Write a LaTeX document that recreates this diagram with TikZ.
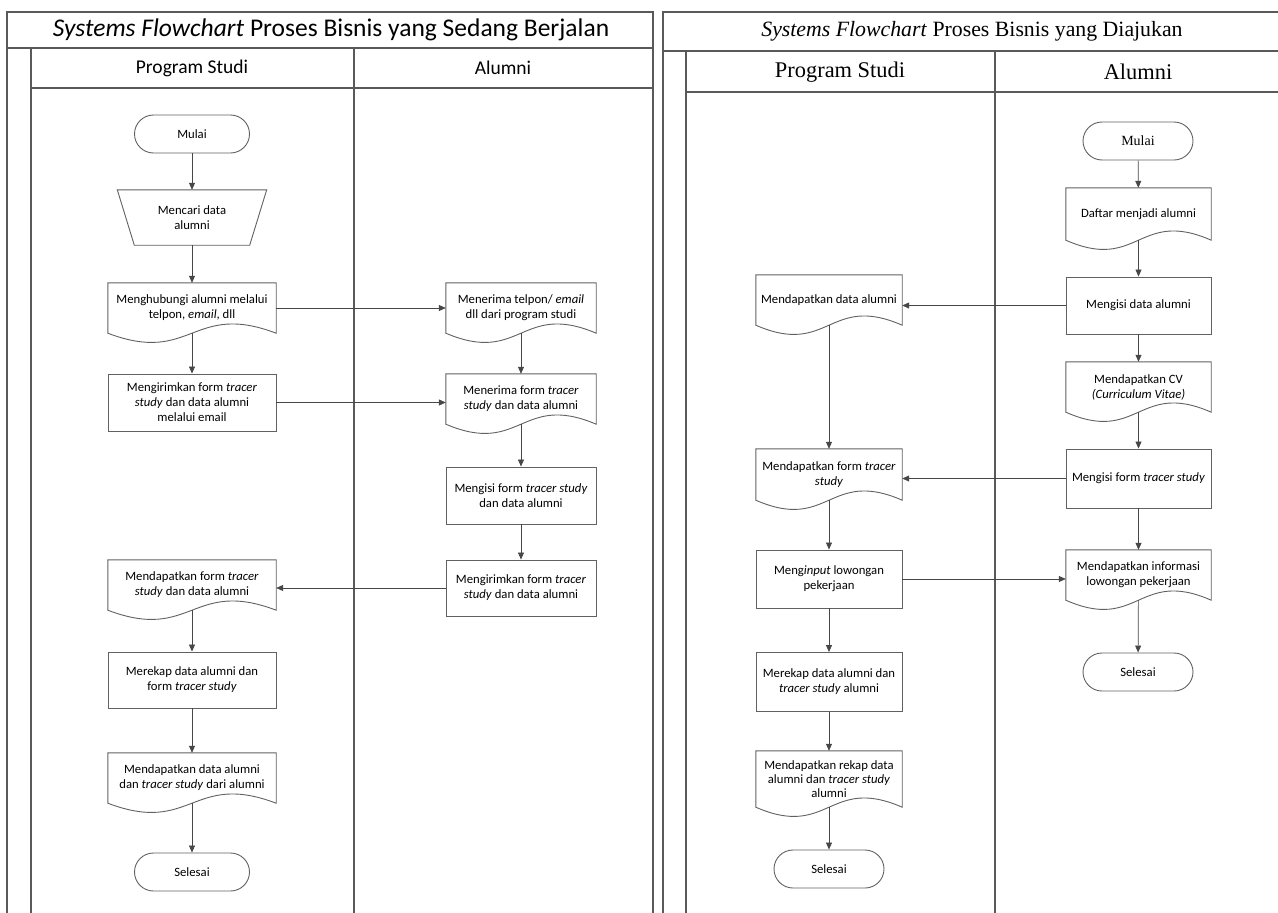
\documentclass[tikz,border=0pt]{standalone}
\usepackage{fontspec}
\setmainfont{Carlito}
\newfontfamily\timesfont{Liberation Serif}
\usetikzlibrary{arrows.meta,calc}

\definecolor{framegray}{gray}{0.35}
\definecolor{shapegray}{gray}{0.38}
\definecolor{arrowgray}{gray}{0.28}

\tikzset{
  lane/.style={draw=framegray, line width=1.3pt},
  boxfont/.style={font=\fontsize{12.7}{15}\selectfont},
  terminal/.style={boxfont, draw=shapegray, line width=0.9pt, rounded corners=19pt,
    minimum width=115pt, minimum height=38pt},
  process/.style={boxfont, draw=shapegray, line width=0.9pt, align=center, inner sep=2pt},
  docnode/.style={boxfont, align=center, inner sep=2pt},
  flow/.style={draw=arrowgray, line width=0.7pt, -{Triangle[length=7pt,width=6pt]}}
}

% outline of a document symbol around a node
\newcommand{\docframe}[1]{%
  \draw[draw=shapegray, line width=0.9pt]
    (#1.south east) .. controls ($(#1.south)+(0,-32)$) and ($(#1.south)+(0,32)$) ..
    (#1.south west) -- (#1.north west) -- (#1.north east) -- cycle;}

\begin{document}
\begin{tikzpicture}[x=1pt, y=-1pt]
  \useasboundingbox (0,0) rectangle (1278,913);

  % left swimlane frame
  \draw[lane] (7,913) -- (7,12) -- (653,12) -- (653,913);
  \draw[lane] (7,48) -- (653,48);
  \draw[lane] (31,48) -- (31,913);
  \draw[lane] (31,88) -- (653,88);
  \draw[lane] (354,48) -- (354,913);
  \node[font=\fontsize{25.5}{28}\selectfont] (judul1) at (331,30) {\textit{Systems Flowchart} Proses Bisnis yang Sedang Berjalan};
  \node[font=\fontsize{19.5}{22}\selectfont] (prodi1) at (192,68) {Program Studi};
  \node[font=\fontsize{19.5}{22}\selectfont] (alumni1) at (503,68) {Alumni};

  % right swimlane frame
  \draw[lane] (663,913) -- (663,12) -- (1281,12) -- (1281,913);
  \draw[lane] (663,51) -- (1281,51);
  \draw[lane] (686,51) -- (686,913);
  \draw[lane] (686,92) -- (1281,92);
  \draw[lane] (995,51) -- (995,913);
  \node[font=\timesfont\fontsize{21.8}{24}\selectfont] (judul2) at (972,31) {\textit{Systems Flowchart} Proses Bisnis yang Diajukan};
  \node[font=\timesfont\fontsize{22.4}{25}\selectfont] (prodi2) at (840,72) {Program Studi};
  \node[font=\timesfont\fontsize{22.4}{25}\selectfont] (alumni2) at (1138,72) {Alumni};

  % left: program studi
  \node[terminal] (mulai1) at (192,134) {Mulai};
  \node[boxfont, align=center, minimum width=115pt, minimum height=55pt] (cari1) at (192,217.5) {Mencari data\\alumni};
  \draw[draw=shapegray, line width=0.9pt] ([xshift=-17pt]cari1.north west) -- ([xshift=17pt]cari1.north east)
    -- (cari1.south east) -- (cari1.south west) -- cycle;
  \node[docnode, minimum width=168pt, minimum height=50pt] (hubungi1) at (192,308) {Menghubungi alumni melalui\\telpon, \textit{email}, dll};
  \docframe{hubungi1}
  \node[process, minimum width=168pt, minimum height=57pt] (kirim1) at (192,402.5) {Mengirimkan form \textit{tracer}\\\textit{study} dan data alumni\\melalui email};
  \node[docnode, minimum width=168pt, minimum height=50pt] (dapatform1) at (192,585) {Mendapatkan form \textit{tracer}\\\textit{study} dan data alumni};
  \docframe{dapatform1}
  \node[process, minimum width=168pt, minimum height=56pt] (rekap1) at (192,680) {Merekap data alumni dan\\form \textit{tracer study}};
  \node[docnode, minimum width=168pt, minimum height=50pt] (dapatdata1) at (192,778) {Mendapatkan data alumni\\dan \textit{tracer study} dari alumni};
  \docframe{dapatdata1}
  \node[terminal] (selesai1) at (192,872) {Selesai};

  % left: alumni
  \node[docnode, minimum width=150pt, minimum height=50pt] (telpon1) at (521,308) {Menerima telpon/ \textit{email}\\dll dari program studi};
  \docframe{telpon1}
  \node[docnode, minimum width=150pt, minimum height=50pt] (terima1) at (521,399) {Menerima form \textit{tracer}\\\textit{study} dan data alumni};
  \docframe{terima1}
  \node[process, minimum width=150pt, minimum height=57pt] (isi1) at (521,495.5) {Mengisi form \textit{tracer study}\\dan data alumni};
  \node[process, minimum width=150pt, minimum height=56pt] (kirimalumni1) at (521,588) {Mengirimkan form \textit{tracer}\\\textit{study} dan data alumni};

  \draw[flow] (mulai1) -- (cari1);
  \draw[flow] (cari1) -- (hubungi1);
  \draw[flow] (hubungi1) -- (kirim1);
  \draw[flow] (dapatform1) -- (rekap1);
  \draw[flow] (rekap1) -- (dapatdata1);
  \draw[flow] (dapatdata1) -- (selesai1);
  \draw[flow] (telpon1) -- (terima1);
  \draw[flow] (terima1) -- (isi1);
  \draw[flow] (isi1) -- (kirimalumni1);
  \draw[flow] (hubungi1.east) -- (hubungi1.east -| telpon1.west);
  \draw[flow] (kirim1.east) -- (kirim1.east -| terima1.west);
  \draw[flow] (kirimalumni1.west) -- (kirimalumni1.west -| dapatform1.east);

  % right: alumni
  \node[terminal, minimum width=110pt, font=\timesfont\fontsize{14}{16}\selectfont] (mulai2) at (1138,141) {Mulai};
  \node[docnode, minimum width=145pt, minimum height=52pt] (daftar2) at (1138.5,214) {Daftar menjadi alumni};
  \docframe{daftar2}
  \node[process, minimum width=145pt, minimum height=57pt] (isidata2) at (1138.5,305.5) {Mengisi data alumni};
  \node[docnode, minimum width=145pt, minimum height=50pt] (cv2) at (1138.5,387) {Mendapatkan CV\\\textit{(Curriculum Vitae)}};
  \docframe{cv2}
  \node[process, minimum width=145pt, minimum height=59pt] (isiform2) at (1138.5,478.5) {Mengisi form \textit{tracer study}};
  \node[docnode, minimum width=145pt, minimum height=50pt] (info2) at (1138.5,575) {Mendapatkan informasi\\lowongan pekerjaan};
  \docframe{info2}
  \node[terminal, minimum width=110pt] (selesai2) at (1138,672) {Selesai};

  % right: program studi
  \node[docnode, minimum width=146pt, minimum height=50pt] (dapatdata2) at (829,300) {Mendapatkan data alumni};
  \docframe{dapatdata2}
  \node[docnode, minimum width=146pt, minimum height=51pt] (dapatform2) at (829,474.5) {Mendapatkan form \textit{tracer}\\\textit{study}};
  \docframe{dapatform2}
  \node[process, minimum width=146pt, minimum height=58pt] (input2) at (829,579) {Meng\textit{input} lowongan\\pekerjaan};
  \node[process, minimum width=146pt, minimum height=59pt] (rekap2) at (829,682) {Merekap data alumni dan\\\textit{tracer study} alumni};
  \node[docnode, minimum width=146pt, minimum height=56pt, font=\fontsize{12.7}{14}\selectfont] (rekapdoc2) at (829,779) {Mendapatkan rekap data\\alumni dan \textit{tracer study}\\alumni};
  \docframe{rekapdoc2}
  \node[terminal, minimum width=110pt] (selesai3) at (829,869) {Selesai};

  \draw[flow] (mulai2) -- (daftar2);
  \draw[flow] (daftar2) -- (isidata2);
  \draw[flow] (isidata2) -- (cv2);
  \draw[flow] (cv2) -- (isiform2);
  \draw[flow] (isiform2) -- (info2);
  \draw[flow] (info2) -- (selesai2);
  \draw[flow] (dapatdata2) -- (dapatform2);
  \draw[flow] (dapatform2) -- (input2);
  \draw[flow] (input2) -- (rekap2);
  \draw[flow] (rekap2) -- (rekapdoc2);
  \draw[flow] (rekapdoc2) -- (selesai3);
  \draw[flow] (isidata2.west) -- (isidata2.west -| dapatdata2.east);
  \draw[flow] (isiform2.west) -- (isiform2.west -| dapatform2.east);
  \draw[flow] (input2.east) -- (input2.east -| info2.west);
\end{tikzpicture}
\end{document}
